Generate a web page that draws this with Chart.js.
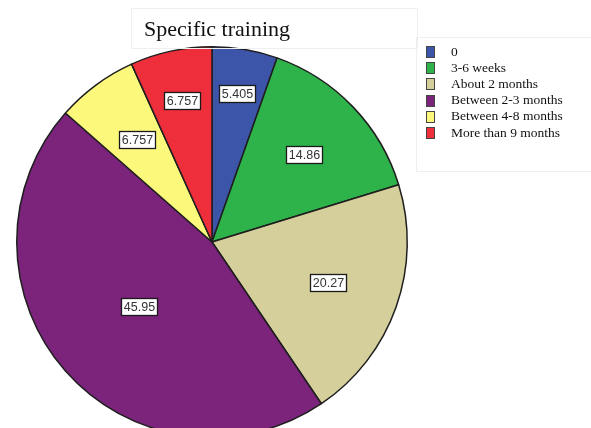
<!DOCTYPE html>
<html>
<head>
<meta charset="utf-8">
<title>Specific training</title>
<script src="https://cdn.jsdelivr.net/npm/chart.js@4"></script>
<style>
    html, body { margin: 0; padding: 0; background: #fff; overflow: hidden; }
    #wrap { width: 591px; height: 428px; overflow: hidden; }
</style>
</head>
<body>
<div id="wrap">
    <canvas id="pie" width="591" height="450"></canvas>
</div>
<script>
// Chart data
const chartTitle = 'Specific training';
const categories = ['0', '3-6 weeks', 'About 2 months', 'Between 2-3 months', 'Between 4-8 months', 'More than 9 months'];
const percentValues = [5.405, 14.86, 20.27, 45.95, 6.757, 6.757];
const valueLabels = ['5.405', '14.86', '20.27', '45.95', '6.757', '6.757'];
const sliceColors = ['#3d55a9', '#2eb34b', '#d4cf9b', '#7c237c', '#fbf87c', '#ee2e3b'];

// Where SPSS puts each boxed label (fraction of the radius)
const labelRadius = [0.77, 0.65, 0.63, 0.5, 0.65, 0.74];

// Draws the boxed value labels on the slices
const sliceLabels = {
    id: 'sliceLabels',
    afterDatasetsDraw(chart) {
        const ctx = chart.ctx;
        const arcs = chart.getDatasetMeta(0).data;
        ctx.save();
        ctx.font = '12.5px "Liberation Sans", Arial, sans-serif';
        ctx.textAlign = 'center';
        ctx.textBaseline = 'middle';
        arcs.forEach(function(arc, i) {
            const mid = (arc.startAngle + arc.endAngle) / 2;
            const r = arc.outerRadius * labelRadius[i];
            const x = arc.x + Math.cos(mid) * r;
            const y = arc.y + Math.sin(mid) * r;
            const w = Math.round(ctx.measureText(valueLabels[i]).width) + 5;
            const h = 17;
            const bx = Math.round(x - w / 2) + 0.5;
            const by = Math.round(y - h / 2) + 0.5;
            ctx.fillStyle = '#ffffff';
            ctx.fillRect(bx, by, w, h);
            ctx.strokeStyle = '#1a1a1a';
            ctx.lineWidth = 1.3;
            ctx.strokeRect(bx, by, w, h);
            ctx.fillStyle = '#333';
            ctx.fillText(valueLabels[i], bx + w / 2, by + h / 2 + 0.5);
        });
        ctx.restore();
    }
};

// Title box and legend in SPSS style
const spssFrame = {
    id: 'spssFrame',
    afterDraw(chart) {
        const ctx = chart.ctx;
        ctx.save();

        // faint frames
        ctx.strokeStyle = '#efefef';
        ctx.lineWidth = 1;
        ctx.strokeRect(131.5, 8.5, 286, 40);
        ctx.strokeRect(416.5, 37.5, 180, 134);

        // title
        ctx.fillStyle = '#111';
        ctx.font = '22px "Liberation Serif", "Times New Roman", serif';
        ctx.textAlign = 'left';
        ctx.textBaseline = 'alphabetic';
        ctx.fillText(chartTitle, 144, 36);

        // legend
        ctx.font = '13.5px "Liberation Serif", "Times New Roman", serif';
        ctx.textBaseline = 'middle';
        categories.forEach(function(name, i) {
            const y = 52 + i * 16.2;
            ctx.fillStyle = sliceColors[i];
            ctx.fillRect(427, Math.round(y - 5), 7, 10);
            ctx.strokeStyle = '#444';
            ctx.strokeRect(426.5, Math.round(y - 5) - 0.5, 8, 11);
            ctx.fillStyle = '#111';
            ctx.fillText(name, 451, y);
        });
        ctx.restore();
    }
};

const ctx = document.getElementById('pie').getContext('2d');
new Chart(ctx, {
    type: 'pie',
    data: {
        labels: categories,
        datasets: [{
            data: percentValues,
            backgroundColor: sliceColors,
            borderColor: '#1e1e1e',
            borderWidth: 1.5
        }]
    },
    options: {
        responsive: false,
        animation: false,
        layout: {
            padding: { left: 16, right: 183, top: 46, bottom: 12 }
        },
        plugins: {
            legend: { display: false },
            title: { display: false },
            tooltip: { enabled: false }
        }
    },
    plugins: [sliceLabels, spssFrame]
});
</script>
</body>
</html>
